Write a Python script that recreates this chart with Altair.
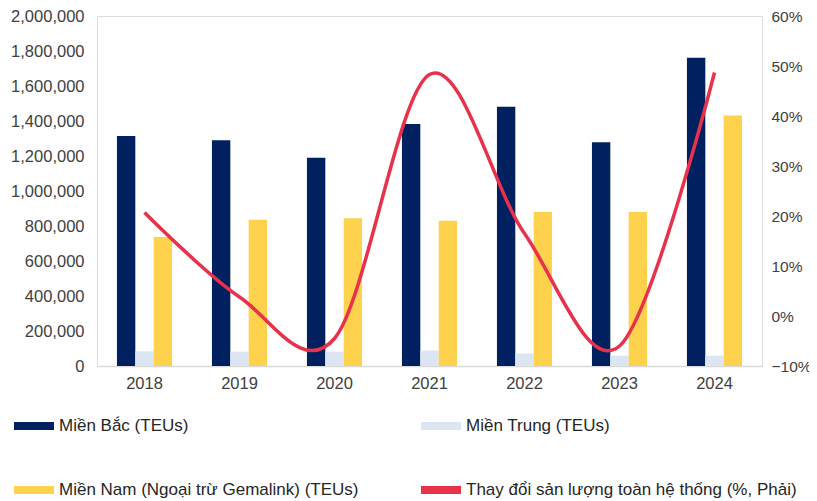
import altair as alt
import pandas as pd

years = ["2018", "2019", "2020", "2021", "2022", "2023", "2024"]
north = [1315000, 1290000, 1190000, 1383000, 1482000, 1278000, 1762000]
central = [84000, 82000, 82000, 88000, 72000, 59000, 59000]
south = [737000, 836000, 844000, 830000, 880000, 880000, 1432000]
growth = [20.7, 3.8, -4.5, 48.3, 16.5, -6.0, 48.7]

series_names = [
    "Miền Bắc (TEUs)",
    "Miền Trung (TEUs)",
    "Miền Nam (Ngoại trừ Gemalink) (TEUs)",
    "Thay đổi sản lượng toàn hệ thống (%, Phải)",
]
colors = ["#002060", "#dce6f2", "#ffd24d", "#e8314a"]
# legend is filled column by column: first column holds entries 1 and 3
legend_order = [series_names[0], series_names[2], series_names[1], series_names[3]]

rows = []
for name, vals in zip(series_names[:3], [north, central, south]):
    for y, v in zip(years, vals):
        rows.append({"year": y, "series": name, "value": v})
bars_df = pd.DataFrame(rows)
line_df = pd.DataFrame({"year": years, "growth": [g / 100 for g in growth],
                        "series": series_names[3]})

FONT = "Liberation Sans"
color_scale = alt.Scale(domain=series_names, range=colors)
x_enc = alt.X("year:N", sort=years,
              scale=alt.Scale(paddingInner=0.42, paddingOuter=0.21),
              axis=alt.Axis(title=None, labelAngle=0, ticks=False, domainColor="#d9d9d9",
                            domainWidth=1.5, labelPadding=9, labelFontSize=16.5,
                            labelColor="#404040", labelFont=FONT))

bars = alt.Chart(bars_df).mark_bar().encode(
    x=x_enc,
    xOffset=alt.XOffset("series:N", sort=series_names[:3],
                        scale=alt.Scale(domain=series_names[:3], paddingInner=0, paddingOuter=0)),
    y=alt.Y("value:Q", scale=alt.Scale(domain=[0, 2000000], nice=False),
            axis=alt.Axis(title=None, values=list(range(0, 2000001, 200000)), format=",.0f",
                          grid=False, ticks=False, domain=False, labelPadding=13,
                          labelFontSize=16.5, labelColor="#404040", labelFont=FONT)),
    color=alt.Color("series:N", scale=color_scale,
                    legend=alt.Legend(title=None, orient="none", legendX=-83, legendY=390,
                                      values=legend_order,
                                      columns=2, columnPadding=31, rowPadding=36,
                                      symbolType="M-1,-0.2H1V0.2H-1Z", symbolSize=1600,
                                      symbolStrokeWidth=0, labelOffset=5, labelLimit=0,
                                      labelFontSize=17, labelColor="#262626", labelFont=FONT,
                                      gridAlign="all", padding=0)),
)

line = alt.Chart(line_df).mark_line(interpolate="cardinal", strokeWidth=3.5).encode(
    x=alt.X("year:N", sort=years),
    y=alt.Y("growth:Q", scale=alt.Scale(domain=[-0.1, 0.6], nice=False),
            axis=alt.Axis(title=None, orient="right", values=[-0.1, 0, 0.1, 0.2, 0.3, 0.4, 0.5, 0.6],
                          format=".0%", grid=False, ticks=False, domain=False, labelPadding=9,
                          labelFontSize=15.5, labelColor="#404040", labelFont=FONT)),
    color=alt.Color("series:N", scale=color_scale),
)

chart = alt.layer(bars, line).resolve_scale(y="independent").properties(
    width=665, height=350,
    autosize=alt.AutoSizeParams(type="none"),
    padding={"left": 89, "top": 8, "right": 47, "bottom": 135},
).configure_view(stroke="#595959", strokeWidth=1.2).configure(font=FONT)

chart.save("out.html", embed_options={"renderer": "svg", "actions": False})
